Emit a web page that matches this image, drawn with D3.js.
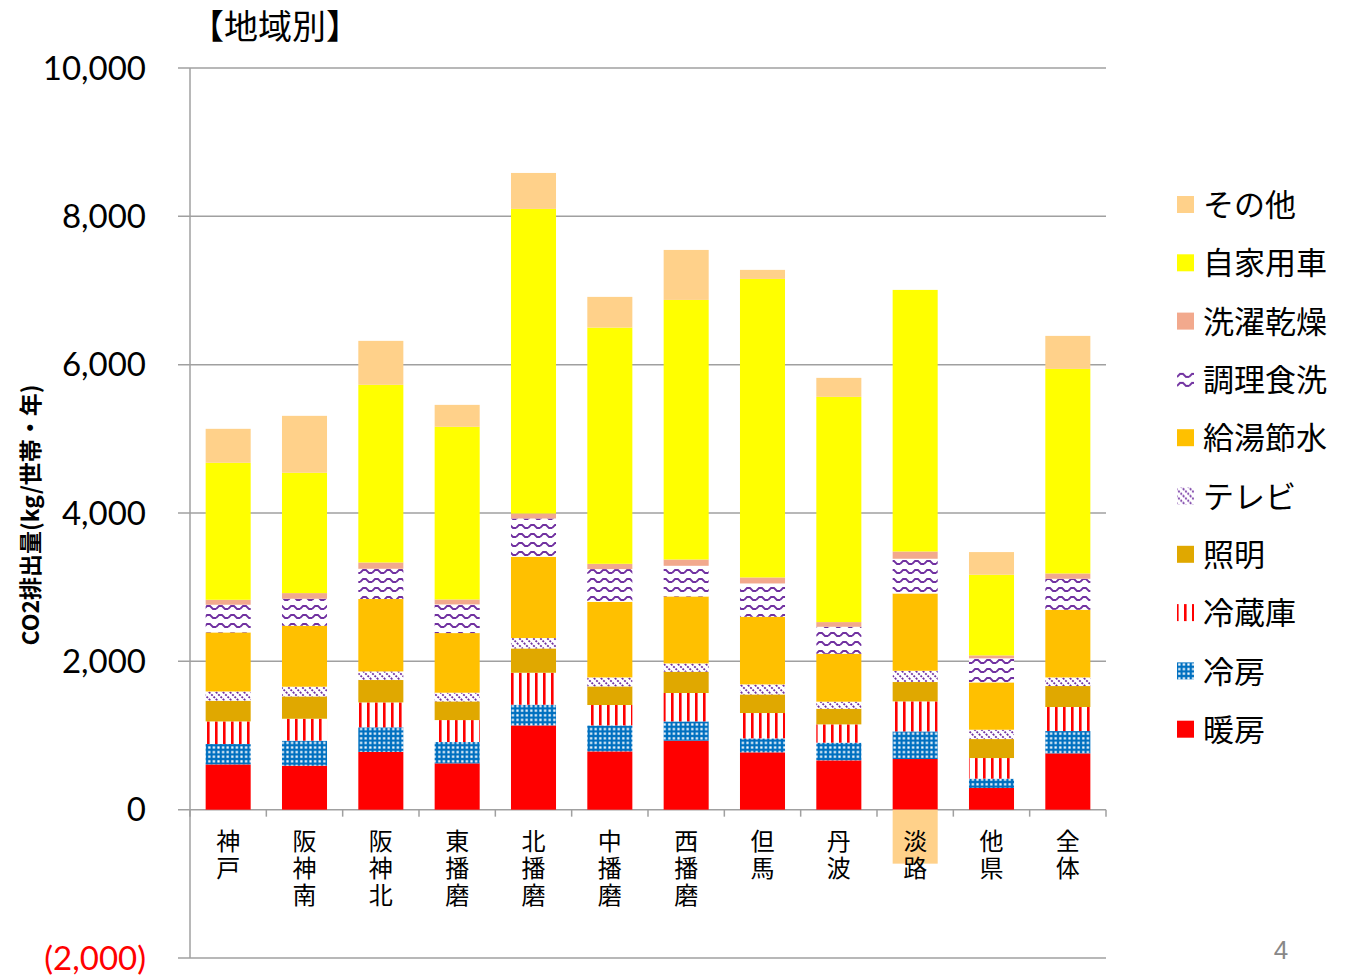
<!DOCTYPE html>
<html>
<head>
<meta charset="utf-8">
<script src="https://cdn.jsdelivr.net/npm/d3@7"></script>
<style>
  body { margin: 0; background: #fff; }
  svg { display: block; }
</style>
</head>
<body>
<div id="chart"></div>
<script>

var categories = ["神戸", "阪神南", "阪神北", "東播磨", "北播磨", "中播磨", "西播磨", "但馬", "丹波", "淡路", "他県", "全体"];

var seriesNames = ["暖房", "冷房", "冷蔵庫", "照明", "テレビ", "給湯節水", "調理食洗", "洗濯乾燥", "自家用車", "その他"];

var danbou   = [610, 593, 778, 624, 1136, 786, 930, 773, 665, 683, 292, 759];
var reibou   = [275, 337, 332, 288, 279, 350, 260, 188, 238, 372, 126, 301];
var reizouko = [305, 296, 336, 296, 431, 275, 383, 342, 247, 405, 278, 324];
var shoumei  = [279, 301, 302, 252, 328, 251, 287, 251, 211, 261, 256, 283];
var terebi   = [125, 131, 116, 117, 140, 121, 112, 135, 95, 152, 126, 116];
var kyuutou  = [796, 822, 976, 804, 1096, 1020, 903, 912, 646, 1042, 638, 912];
var chouri   = [373, 364, 408, 386, 516, 441, 413, 449, 364, 468, 324, 418];
var sentaku  = [67, 76, 85, 67, 67, 71, 85, 81, 63, 98, 40, 72];
var jikayou  = [1847, 1622, 2395, 2328, 4107, 3185, 3500, 4025, 3037, 3527, 1087, 2758];
var sonota   = [458, 768, 593, 296, 485, 414, 674, 122, 256, -728, 306, 445];

var seriesValues = [danbou, reibou, reizouko, shoumei, terebi, kyuutou, chouri, sentaku, jikayou, sonota];

var yTicks = [-2000, 0, 2000, 4000, 6000, 8000, 10000];

var fills = ["#FF0000", "url(#p-cool)", "url(#p-fridge)", "#E0A800", "url(#p-tv)",
             "#FFC000", "url(#p-cook)", "#F2A98D", "#FFFF00", "#FFD18A"];

var rows = categories.map(function(c, i) {
  var r = { cat: c };
  seriesNames.forEach(function(s, j) { r[s] = seriesValues[j][i]; });
  return r;
});

var svg = d3.select("#chart").append("svg")
  .attr("width", 1357)
  .attr("height", 976);

var defs = svg.append("defs");

var p = defs.append("pattern").attr("id", "p-cool").attr("patternUnits", "userSpaceOnUse")
  .attr("width", 4.6).attr("height", 4.6);
p.append("rect").attr("width", 4.6).attr("height", 4.6).attr("fill", "#0070C0");
p.append("rect").attr("x", 1.2).attr("y", 1.2).attr("width", 2.2).attr("height", 2.2).attr("fill", "#fff");

p = defs.append("pattern").attr("id", "p-fridge").attr("patternUnits", "userSpaceOnUse")
  .attr("width", 8).attr("height", 8).attr("x", 205);
p.append("rect").attr("width", 8).attr("height", 8).attr("fill", "#fff");
p.append("rect").attr("x", 2).attr("width", 2.6).attr("height", 8).attr("fill", "#FF0000");

p = defs.append("pattern").attr("id", "p-tv").attr("patternUnits", "userSpaceOnUse")
  .attr("width", 7).attr("height", 7);
p.append("rect").attr("width", 7).attr("height", 7).attr("fill", "#fff");
p.append("path").attr("d", "M-1,-1 L8,8 M-8,-1 L1,8 M6,-1 L15,8")
  .attr("stroke", "#7030A0").attr("stroke-width", 1.8).attr("stroke-dasharray", "2,1.2");

p = defs.append("pattern").attr("id", "p-cook").attr("patternUnits", "userSpaceOnUse")
  .attr("width", 12).attr("height", 9);
p.append("rect").attr("width", 12).attr("height", 9).attr("fill", "#fff");
p.append("path").attr("d", "M0,6 L3,3 L6,3 L9,6 L12,6")
  .attr("fill", "none").attr("stroke", "#7030A0").attr("stroke-width", 1.8);

var x = d3.scaleBand()
  .domain(categories)
  .range([190, 1106])
  .paddingInner(0.41)
  .paddingOuter(0.205);

var y = d3.scaleLinear()
  .domain([-2000, 10000])
  .range([958, 68]);

// gridlines
svg.append("g")
  .selectAll("line")
  .data(yTicks)
  .enter().append("line")
  .attr("x1", 178).attr("x2", 1106)
  .attr("y1", function(d) { return y(d); })
  .attr("y2", function(d) { return y(d); })
  .attr("stroke", "#A0A0A0")
  .attr("stroke-width", 1.5);

svg.append("line")
  .attr("x1", 190).attr("x2", 190)
  .attr("y1", y(10000)).attr("y2", y(-2000))
  .attr("stroke", "#A0A0A0").attr("stroke-width", 1.5);

// category boundary ticks on the zero line
var bounds = d3.range(categories.length + 1).map(function(i) { return 190 + i * x.step(); });
svg.append("g")
  .selectAll("line")
  .data(bounds)
  .enter().append("line")
  .attr("x1", function(d) { return d; }).attr("x2", function(d) { return d; })
  .attr("y1", y(0)).attr("y2", y(0) + 7)
  .attr("stroke", "#A0A0A0").attr("stroke-width", 1.5);

var stack = d3.stack()
  .keys(seriesNames)
  .offset(d3.stackOffsetDiverging);

var layers = svg.append("g")
  .selectAll("g")
  .data(stack(rows))
  .enter().append("g")
  .attr("fill", function(d, i) { return fills[i]; });

layers.selectAll("rect")
  .data(function(d) { return d; })
  .enter().append("rect")
  .attr("x", function(d) { return x(d.data.cat); })
  .attr("width", x.bandwidth())
  .attr("y", function(d) { return y(Math.max(d[0], d[1])); })
  .attr("height", function(d) { return Math.abs(y(d[0]) - y(d[1])); });

// y tick labels
svg.append("g")
  .selectAll("text")
  .data(yTicks)
  .enter().append("text")
  .attr("x", 146)
  .attr("y", function(d) { return y(d); })
  .attr("dy", "0.35em")
  .attr("text-anchor", "end")
  .attr("font-family", "Lato, 'Open Sans', sans-serif")
  .attr("font-size", 33)
  .attr("fill", function(d) { return d < 0 ? "#FF0000" : "#000"; })
  .text(function(d) { return d < 0 ? "(" + d3.format(",")(-d) + ")" : d3.format(",")(d); });

// x labels, written top to bottom
svg.append("g")
  .selectAll("text")
  .data(categories)
  .enter().append("text")
  .attr("x", function(d) { return x(d) + x.bandwidth() / 2; })
  .attr("y", 829)
  .attr("writing-mode", "vertical-rl")
  .attr("letter-spacing", 3)
  .attr("font-family", "'Noto Sans CJK JP', sans-serif")
  .attr("font-size", 24)
  .attr("fill", "#000")
  .text(function(d) { return d; });

svg.append("text")
  .attr("x", 275)
  .attr("y", 39)
  .attr("text-anchor", "middle")
  .attr("font-family", "'Noto Sans CJK JP', sans-serif")
  .attr("font-size", 34)
  .text("【地域別】");

svg.append("text")
  .attr("transform", "translate(39,515) rotate(-90)")
  .attr("text-anchor", "middle")
  .attr("font-family", "'Noto Sans CJK JP', sans-serif")
  .attr("font-weight", "bold")
  .attr("font-size", 23)
  .text("CO2排出量(kg/世帯・年)");

// legend, top entry is the last series
var legendOrder = seriesNames.slice().reverse();
var legend = svg.append("g")
  .selectAll("g")
  .data(legendOrder)
  .enter().append("g")
  .attr("transform", function(d, i) { return "translate(1177," + (205 + i * 58.3) + ")"; });

legend.append("rect")
  .attr("y", -9)
  .attr("width", 17)
  .attr("height", 17)
  .attr("fill", function(d) { return fills[seriesNames.indexOf(d)]; });

legend.append("text")
  .attr("x", 26)
  .attr("dy", "0.36em")
  .attr("font-family", "'Noto Sans CJK JP', sans-serif")
  .attr("font-size", 31)
  .text(function(d) { return d; });

svg.append("text")
  .attr("x", 1281)
  .attr("y", 959)
  .attr("text-anchor", "middle")
  .attr("font-family", "'Liberation Sans', sans-serif")
  .attr("font-size", 26)
  .attr("fill", "#888")
  .text("4");

</script>
</body>
</html>
